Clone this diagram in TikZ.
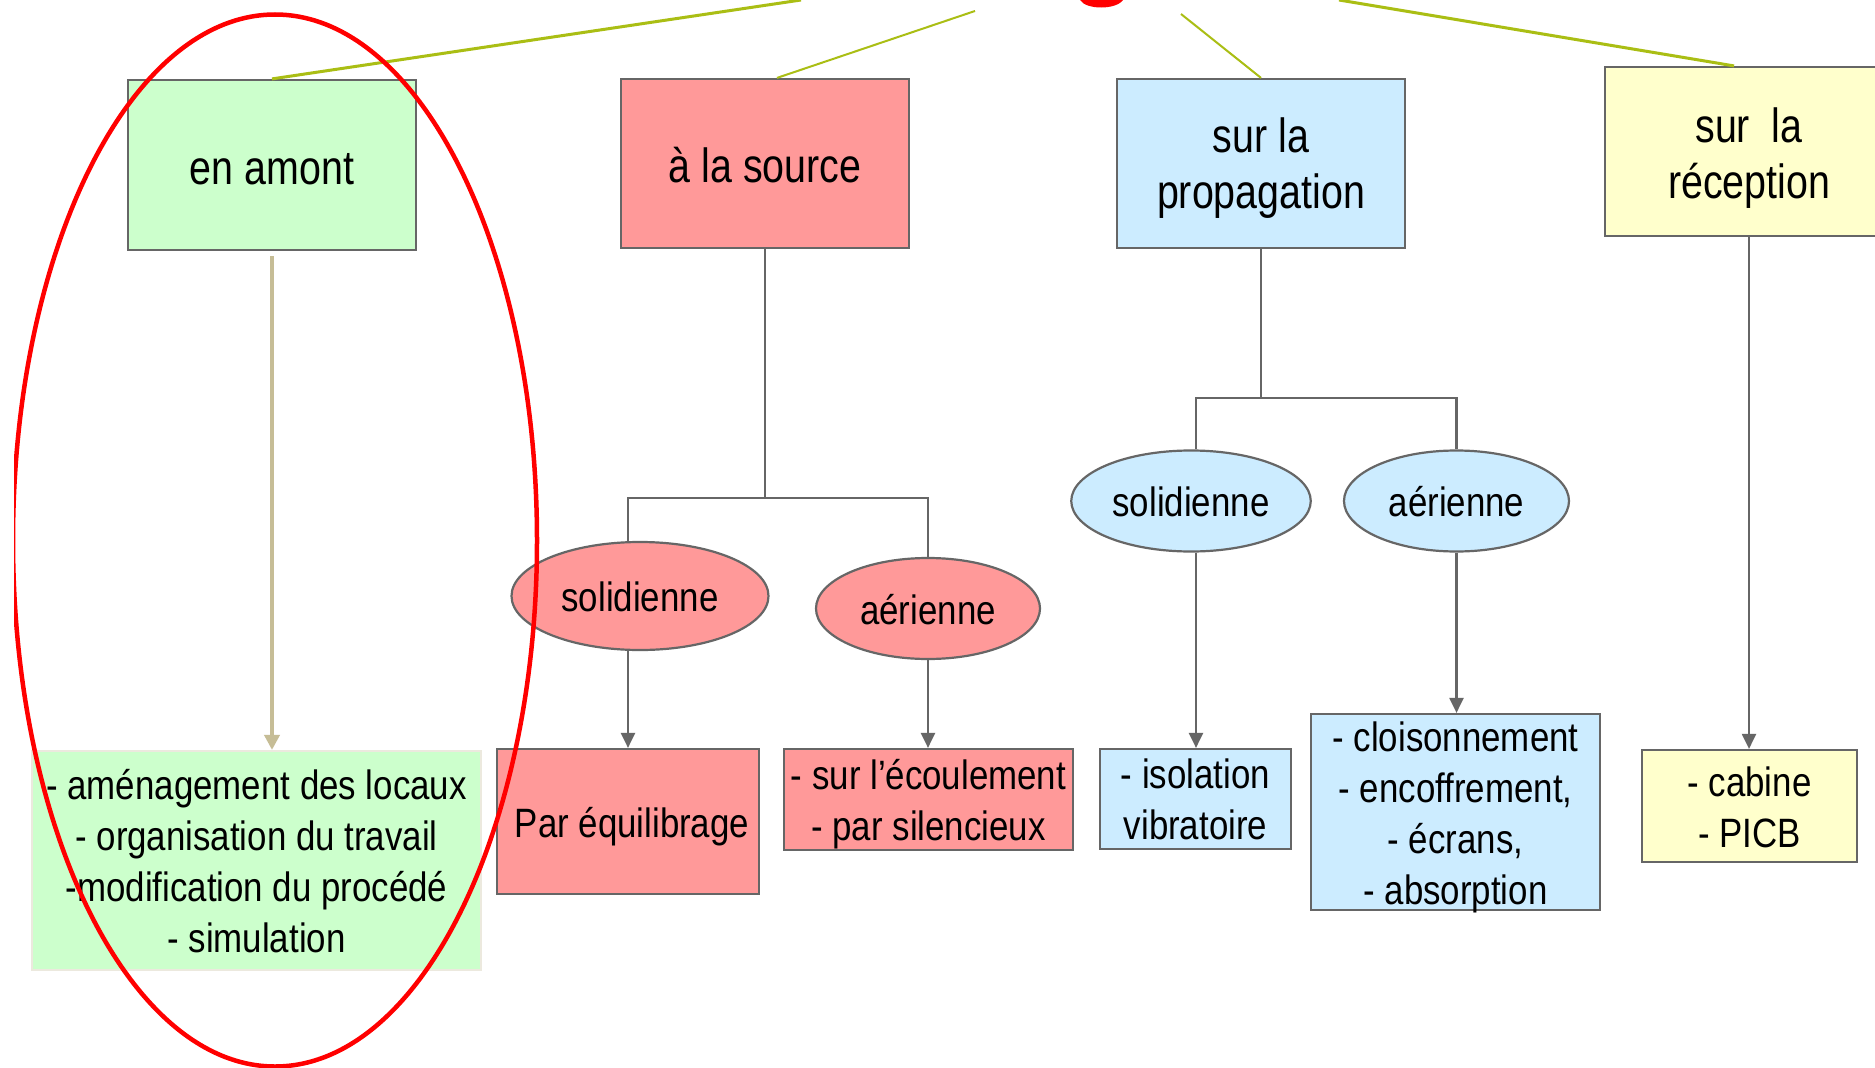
\documentclass[tikz,border=0pt]{standalone}
\usepackage{fontspec}
\setmainfont[FakeStretch=0.85]{Liberation Sans}
\newfontfamily\topfamily[FakeStretch=0.82]{Liberation Sans}
\usetikzlibrary{arrows.meta,shapes.geometric}
\definecolor{cgreen}{HTML}{CCFFCC}
\definecolor{cred}{HTML}{FF9999}
\definecolor{cblue}{HTML}{CCECFF}
\definecolor{cyel}{HTML}{FFFFCC}
\definecolor{cline}{HTML}{666666}
\definecolor{ctan}{RGB}{198,189,150}
\definecolor{colive}{RGB}{170,190,20}
\definecolor{cpale}{RGB}{236,233,222}
\newcommand{\TopS}{\rule{0pt}{50pt}}
\newcommand{\BotS}{\rule[-50pt]{0pt}{50pt}}
\newcommand{\OvS}{\rule[-6.4pt]{0pt}{44.4pt}}
\begin{document}
\begin{tikzpicture}[x=1pt,y=-1pt,
  topbox/.style={draw=cline, line width=2.2pt, inner sep=0pt},
  lowbox/.style={draw=cline, line width=2.2pt, inner sep=0pt},
  toptxt/.style={inner sep=0pt, align=center, font=\topfamily\fontsize{48}{56}\selectfont},
  lowtxt/.style={inner sep=0pt, align=center, font=\fontsize{41}{51}\selectfont},
  oval/.style={ellipse, draw=cline, line width=2.2pt, inner sep=0pt, font=\fontsize{41}{51}\selectfont},
  conn/.style={draw=cline, line width=2.2pt},
  arr/.style={conn, -{Triangle[width=14pt,length=15pt]}},
]
\path[use as bounding box, clip] (0,0) rectangle (1875,1068);
\fill[white] (0,0) rectangle (1875,1068);

% top boxes
\node[topbox, fill=cgreen, minimum width=288pt, minimum height=170pt] (amont) at (272,165) {};
\node[topbox, fill=cred, minimum width=288pt, minimum height=169pt] (source) at (765,163.5) {};
\node[topbox, fill=cblue, minimum width=288pt, minimum height=169pt] (prop) at (1261,163.5) {};
\node[topbox, fill=cyel, minimum width=288pt, minimum height=169pt] (recep) at (1749,151.5) {};
\node[toptxt] (amont-t) at ([yshift=-19pt]amont.center) {\TopS en amont\BotS};
\node[toptxt] (source-t) at ([yshift=-19pt]source.center) {\TopS à la source\BotS};
\node[toptxt] (prop-t) at ([yshift=-17pt]prop.center) {\TopS sur la\\propagation\BotS};
\node[toptxt] (recep-t) at ([yshift=-18.8pt]recep.center) {\TopS sur\ \ la\\réception\BotS};

% lines from the title
\draw[colive, line width=3pt] (801,0) -- (amont.north);
\draw[colive, line width=2pt] (975,11) -- ([xshift=12pt]source.north);
\draw[colive, line width=2pt] (1181,14) -- (prop.north);
\draw[colive, line width=3pt] (1339,0) -- ([xshift=-15pt]recep.north);
\fill[red] (1080,0) .. controls (1086,10) and (1116,10) .. (1123,0) -- cycle;

% ellipses
\node[oval, fill=cred, minimum width=257pt, minimum height=108pt] (sol1) at (640,596) {\OvS solidienne};
\node[oval, fill=cred, minimum width=224pt, minimum height=101pt] (aer1) at (928,608.5) {\OvS aérienne};
\node[oval, fill=cblue, minimum width=239.5pt, minimum height=101pt] (sol2) at (1191,501) {\OvS solidienne};
\node[oval, fill=cblue, minimum width=225pt, minimum height=101pt] (aer2) at (1456.5,501) {\OvS aérienne};

% lower boxes
\node[lowbox, fill=cgreen, draw=cpale, minimum width=449pt, minimum height=219pt] (amontlist) at (256.5,860.5) {};
\node[lowbox, fill=cred, minimum width=262pt, minimum height=145pt] (par) at (628,821.5) {};
\node[lowbox, fill=cred, minimum width=289pt, minimum height=101pt] (ecoul) at (928.5,799.5) {};
\node[lowbox, fill=cblue, minimum width=191pt, minimum height=100pt] (isol) at (1195.5,799) {};
\node[lowbox, fill=cblue, minimum width=289pt, minimum height=196pt] (cloison) at (1455.5,812) {};
\node[lowbox, fill=cyel, minimum width=215pt, minimum height=112pt] (cabine) at (1749.5,806) {};

\node[lowtxt] (amontlist-t) at ([yshift=-15pt]amontlist.center) {\TopS - aménagement des locaux\\- organisation du travail\\-modification du procédé\\- simulation\BotS};
\node[lowtxt] (par-t) at ([xshift=4pt,yshift=-15.8pt]par.center) {\TopS Par équilibrage\BotS};
\node[lowtxt] (ecoul-t) at ([yshift=-15pt]ecoul.center) {\TopS - sur l’écoulement\\- par silencieux\BotS};
\node[lowtxt] (isol-t) at ([yshift=-14.5pt]isol.center) {\TopS - isolation\\vibratoire\BotS};
\node[lowtxt] (cloison-t) at ([yshift=-16.4pt]cloison.center) {\TopS - cloisonnement\\- encoffrement,\\- écrans,\\- absorption\BotS};
\node[lowtxt] (cabine-t) at ([yshift=-15.7pt]cabine.center) {\TopS - cabine\\- PICB\BotS};

% connectors
\draw[ctan, line width=4.6pt, -{Triangle[width=15pt,length=15pt]}] ([yshift=-5pt]amont.south) -- (amont.south |- amontlist.north);

\coordinate (j1) at (765,498);
\draw[conn] (source.south) -- (j1);
\draw[conn] ([xshift=-12pt]sol1.north) |- (j1) -| (aer1.north);
\draw[arr] ([xshift=-12pt]sol1.south) -- ([xshift=-12pt]sol1.south |- par.north);
\draw[arr] (aer1.south) -- (aer1.south |- ecoul.north);

\coordinate (j2) at (1261,398);
\draw[conn] (prop.south) -- (j2);
\draw[conn] ([xshift=5pt]sol2.north) |- (j2) -| (aer2.north);
\draw[arr] ([xshift=5pt]sol2.south) -- ([xshift=5pt]sol2.south |- isol.north);
\draw[arr] (aer2.south) -- (aer2.south |- cloison.north);
\draw[arr] (recep.south) -- (recep.south |- cabine.north);

% red ellipse highlight
\begin{scope}
\clip (14,0) rectangle (1875,1068);
\draw[red, line width=4.5pt] (275,540.5) ellipse [x radius=262, y radius=526];
\end{scope}
\end{tikzpicture}
\end{document}
